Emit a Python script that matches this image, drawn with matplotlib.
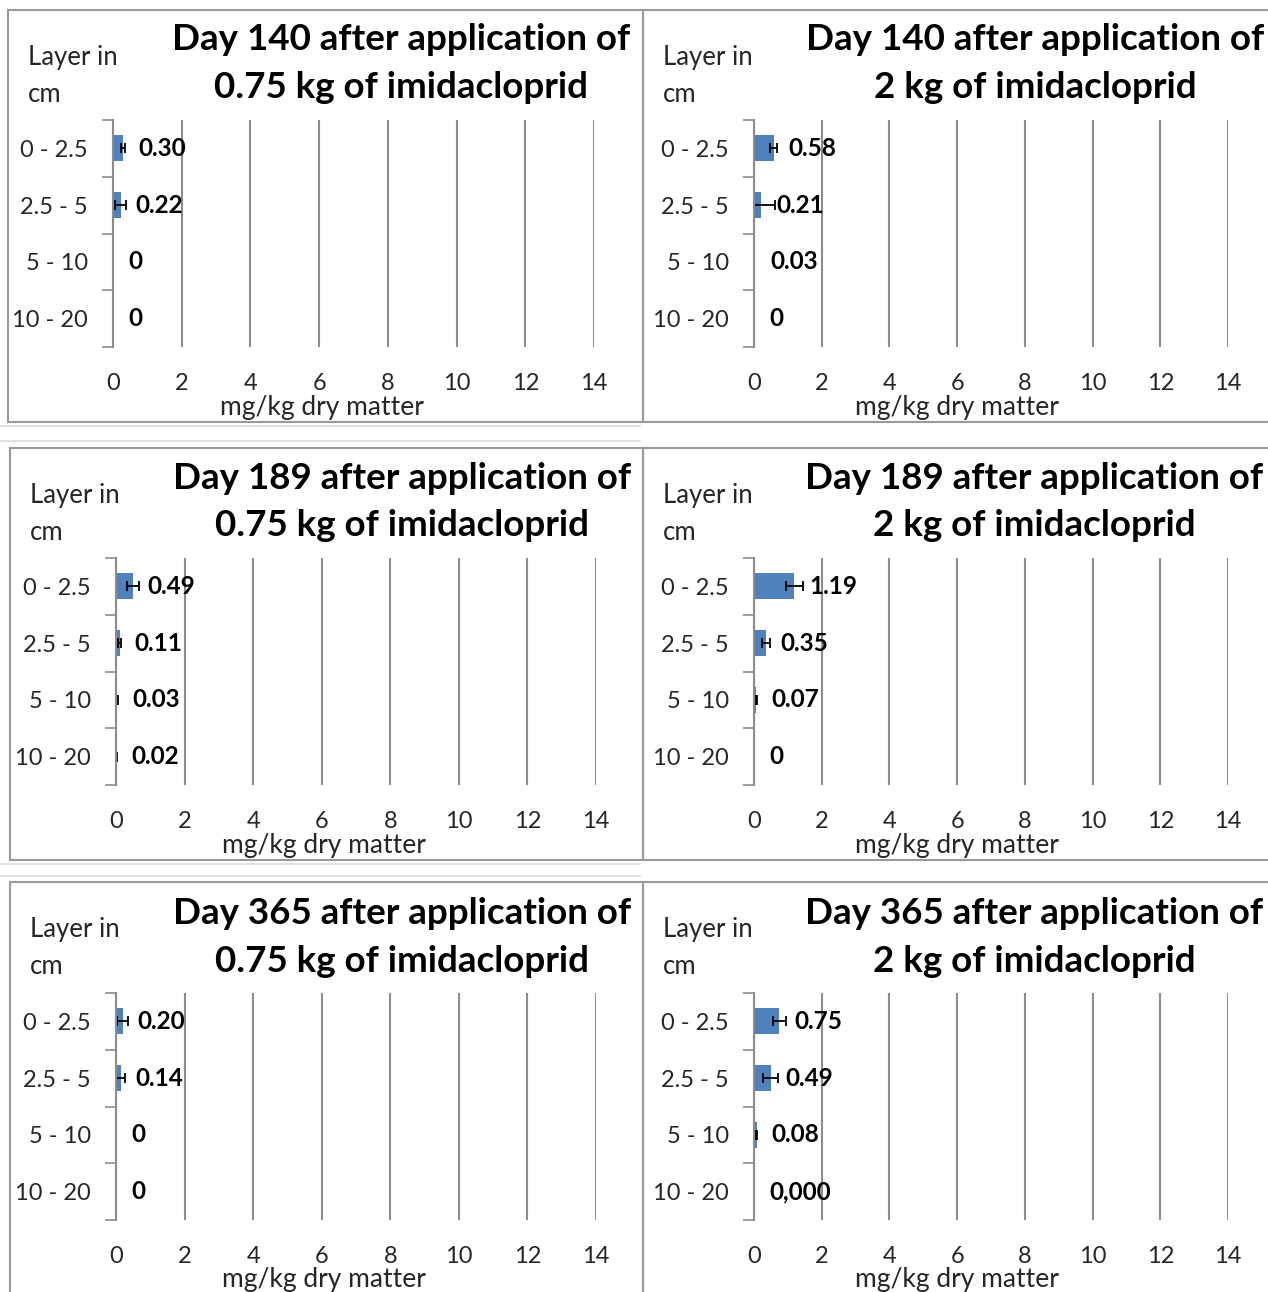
import matplotlib
matplotlib.use("Agg")
import matplotlib.pyplot as plt
from matplotlib.patches import Rectangle
from matplotlib.lines import Line2D

# ---------------- data ----------------
layers = ["0 - 2.5", "2.5 - 5", "5 - 10", "10 - 20"]
x_ticks = [0, 2, 4, 6, 8, 10, 12, 14]

day140_075 = [0.30, 0.22, 0.0, 0.0]
day140_075_err = [0.06, 0.17, 0.0, 0.0]
day140_075_lbl = ["0.30", "0.22", "0", "0"]

day140_2 = [0.58, 0.21, 0.03, 0.0]
day140_2_err = [0.10, 0.40, 0.0, 0.0]
day140_2_lbl = ["0.58", "0.21", "0.03", "0"]

day189_075 = [0.49, 0.11, 0.03, 0.02]
day189_075_err = [0.17, 0.05, 0.02, 0.02]
day189_075_lbl = ["0.49", "0.11", "0.03", "0.02"]

day189_2 = [1.19, 0.35, 0.07, 0.0]
day189_2_err = [0.25, 0.11, 0.02, 0.0]
day189_2_lbl = ["1.19", "0.35", "0.07", "0"]

day365_075 = [0.20, 0.14, 0.0, 0.0]
day365_075_err = [0.16, 0.13, 0.0, 0.0]
day365_075_lbl = ["0.20", "0.14", "0", "0"]

day365_2 = [0.75, 0.49, 0.08, 0.0]
day365_2_err = [0.19, 0.21, 0.02, 0.0]
day365_2_lbl = ["0.75", "0.49", "0.08", "0,000"]

titles1 = ["Day 140 after application of", "Day 140 after application of",
           "Day 189 after application of", "Day 189 after application of",
           "Day 365 after application of", "Day 365 after application of"]
titles2 = ["0.75 kg of imidacloprid", "2 kg of imidacloprid"] * 3

# ---------------- style ----------------
plt.rcParams['font.family'] = ['Lato', 'DejaVu Sans']
W, H = 1268, 1292
BLUE = '#4F81BD'
GRID = '#8c8c8c'
TXT = '#262626'

fig = plt.figure(figsize=(W / 100, H / 100), dpi=100)


def fx(x):
    return x / W


def fy(y):
    return 1 - y / H


# panel frames
frames = [(8, 10, 643, 422), (643, 10, 1280, 422),
          (10, 448, 643, 860), (643, 448, 1280, 860),
          (10, 882, 643, 1310), (643, 882, 1280, 1310)]
for (x0, y0, x1, y1) in frames:
    fig.add_artist(Rectangle((fx(x0), fy(y1)), (x1 - x0) / W, (y1 - y0) / H,
                             transform=fig.transFigure, fill=False,
                             edgecolor='#9a9a9a', linewidth=1.5))
for yy in (426, 441, 864, 876):
    fig.add_artist(Line2D([0, fx(640)], [fy(yy), fy(yy)], transform=fig.transFigure,
                          color='#dcdcdc', linewidth=1.2))

panels = [
    (day140_075, day140_075_err, day140_075_lbl, (113, 594, 120, 347)),
    (day140_2, day140_2_err, day140_2_lbl, (754, 1228, 120, 347)),
    (day189_075, day189_075_err, day189_075_lbl, (116, 596, 558, 785)),
    (day189_2, day189_2_err, day189_2_lbl, (754, 1228, 558, 785)),
    (day365_075, day365_075_err, day365_075_lbl, (116, 596, 993, 1220)),
    (day365_2, day365_2_err, day365_2_lbl, (754, 1228, 993, 1220)),
]

title_pos = [(401, 40, 88), (1035, 40, 88),
             (402, 478, 526), (1034, 478, 526),
             (402, 913, 961), (1034, 913, 961)]
layer_pos = [(28, 58, 95), (663, 58, 95),
             (30, 496, 533), (663, 496, 533),
             (30, 930, 966), (663, 930, 966)]
xlabel_pos = [(322, 408), (957, 408), (324, 846), (957, 846), (324, 1280), (957, 1280)]

for k, (vals, errs, lbls, (x0, x1, top, bot)) in enumerate(panels):
    ax = fig.add_axes([fx(x0), fy(bot), (x1 - x0) / W, (bot - top) / H])
    ypos = list(range(len(layers)))
    ax.barh(ypos, vals, height=0.46, color=BLUE, zorder=3)
    idx = [i for i, e in enumerate(errs) if e > 0]
    if idx:
        ax.errorbar([vals[i] for i in idx], [ypos[i] for i in idx],
                    xerr=[errs[i] for i in idx], fmt='none', ecolor='black',
                    capsize=3.5, elinewidth=1.3, capthick=1.3, zorder=4)
    ax.set_xlim(0, 14)
    ax.set_ylim(3.5, -0.5)
    ax.set_xticks(x_ticks)
    ax.set_xticklabels([str(t) for t in x_ticks], fontsize=17, color=TXT)
    ax.tick_params(axis='x', length=0, pad=19)
    ax.set_yticks([-0.5, 0.5, 1.5, 2.5, 3.5])
    ax.set_yticklabels([])
    ax.set_yticks(ypos, minor=True)
    ax.set_yticklabels(layers, minor=True, fontsize=17, color=TXT)
    ax.tick_params(axis='y', which='major', length=8, width=1.2, color=GRID, direction='out')
    ax.tick_params(axis='y', which='minor', length=0, pad=18)
    ax.grid(axis='x', color=GRID, linewidth=1.5, zorder=0)
    for s in ('top', 'right', 'bottom'):
        ax.spines[s].set_visible(False)
    ax.spines['left'].set_color(GRID)
    ax.spines['left'].set_linewidth(1.5)
    ax.spines['left'].set_zorder(5)
    for i, (v, t) in enumerate(zip(vals, lbls)):
        ax.annotate(t, xy=(v, i), xytext=(15, 0), textcoords='offset pixels',
                    va='center', ha='left', fontsize=17.5, fontweight='bold',
                    color='black', zorder=5)

    cx, ty1, ty2 = title_pos[k]
    fig.text(fx(cx), fy(ty1), titles1[k], ha='center', va='center',
             fontsize=26.5, fontweight='bold', color='black')
    fig.text(fx(cx), fy(ty2), titles2[k], ha='center', va='center',
             fontsize=26.5, fontweight='bold', color='black')
    lx, ly1, ly2 = layer_pos[k]
    fig.text(fx(lx), fy(ly1), "Layer in", ha='left', va='center', fontsize=18.5, color=TXT)
    fig.text(fx(lx), fy(ly2), "cm", ha='left', va='center', fontsize=18.5, color=TXT)
    xlx, xly = xlabel_pos[k]
    fig.text(fx(xlx), fy(xly), "mg/kg dry matter", ha='center', va='center',
             fontsize=19, color=TXT)

fig.savefig("out.png", dpi=100, facecolor='white')
